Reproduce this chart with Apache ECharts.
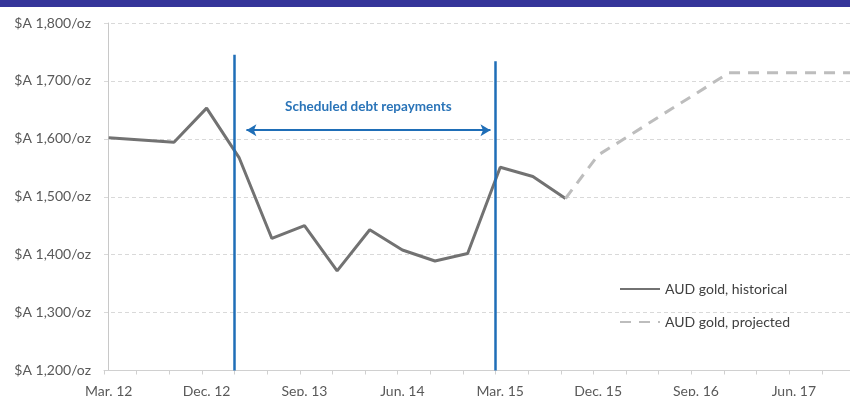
<!DOCTYPE html>
<html>
<head>
<meta charset="utf-8">
<script src="https://cdn.jsdelivr.net/npm/echarts@6/dist/echarts.min.js"></script>
<style>
  html, body { margin: 0; padding: 0; background: #fff; }
  #chart { width: 850px; height: 396px; }
</style>
</head>
<body>
<div id="chart"></div>
<script>
// quarters, from Mar. 12 (index 0)
const quarters = ['Mar. 12','Jun. 12','Sep. 12','Dec. 12','Mar. 13','Jun. 13','Sep. 13','Dec. 13',
  'Mar. 14','Jun. 14','Sep. 14','Dec. 14','Mar. 15','Jun. 15','Sep. 15','Dec. 15',
  'Mar. 16','Jun. 16','Sep. 16','Dec. 16','Mar. 17','Jun. 17','Sep. 17','Dec. 17'];
const labelQuarters = [0, 3, 6, 9, 12, 15, 18, 21];

// AUD gold price, $A/oz
const historical = [1602, 1598, 1594, 1653, 1567, 1428, 1450, 1372, 1443, 1408, 1389, 1402, 1551, 1535, 1497];
const projectedStart = 14;
const projected = [1497, 1572, 1607, 1643, 1678, 1714, 1714, 1714, 1714, 1714];

// scheduled debt repayments window (quarter index)
const repayStart = 4;
const repayEnd = 12;

const tickShift = 0.145;   // excel ticks sit a little left of the points
const font = 'Lato, "Open Sans", sans-serif';
const blue = '#1f6eb7';

const chart = echarts.init(document.getElementById('chart'));

const option = {
  animation: false,
  textStyle: { fontFamily: font },
  graphic: [{
    type: 'rect',
    shape: { x: 0, y: 0, width: 850, height: 7 },
    style: { fill: '#35359a' }
  }],
  grid: { left: 104, right: 0, top: 23, bottom: 25.5, outerBoundsMode: 'none', containLabel: false },
  legend: {
    orient: 'vertical',
    left: 614,
    top: 277,
    itemWidth: 40,
    itemHeight: 14,
    itemGap: 19,
    itemStyle: { opacity: 0 },
    textStyle: { fontSize: 14, color: '#404040', fontFamily: font },
    data: ['AUD gold, historical', 'AUD gold, projected']
  },
  xAxis: {
    type: 'value',
    min: -tickShift,
    max: 22.72,
    splitLine: { show: false },
    axisLine: { show: true, lineStyle: { color: '#d0d0d0', width: 1 } },
    axisTick: {
      show: true,
      length: 4,
      lineStyle: { color: '#d0d0d0' },
      customValues: quarters.map((q, i) => i - tickShift)
    },
    axisLabel: {
      customValues: labelQuarters,
      formatter: v => quarters[Math.round(v)],
      color: '#595959',
      fontSize: 14,
      margin: 14,
      fontFamily: font
    }
  },
  yAxis: {
    type: 'value',
    min: 1200,
    max: 1800,
    interval: 100,
    axisLine: { show: true, lineStyle: { color: '#c8c8c8' } },
    axisTick: { show: false },
    axisLabel: {
      formatter: v => '$A ' + v.toLocaleString('en-US') + '/oz',
      color: '#595959',
      fontSize: 14,
      margin: 13,
      fontFamily: font
    },
    splitLine: { lineStyle: { color: '#d9d9d9', type: [4, 3], width: 1 } }
  },
  series: [
    {
      name: 'AUD gold, historical',
      type: 'line',
      symbol: 'none',
      data: historical.map((v, i) => [i, v]),
      lineStyle: { color: '#727272', width: 3 },
      itemStyle: { color: '#727272' },
      markLine: {
        silent: true,
        symbol: ['none', 'none'],
        lineStyle: { color: blue, width: 2.5, type: 'solid' },
        label: { show: false },
        data: [
          [{ coord: [repayStart - tickShift, 1200] }, { coord: [repayStart - tickShift, 1745] }],
          [{ coord: [repayEnd - tickShift, 1200] }, { coord: [repayEnd - tickShift, 1734] }]
        ]
      }
    },
    {
      name: 'AUD gold, projected',
      type: 'line',
      symbol: 'none',
      data: projected.map((v, i) => [i + projectedStart, v]),
      lineStyle: { color: '#bdbdbd', width: 3, type: [11, 8] },
      itemStyle: { color: '#bdbdbd' },
      markLine: {
        silent: true,
        symbol: ['arrow', 'arrow'],
        symbolSize: [9, 10],
        lineStyle: { color: blue, width: 2, type: 'solid' },
        label: {
          show: true,
          position: 'insideMiddleTop',
          distance: 17,
          formatter: 'Scheduled debt repayments',
          color: '#2a74b8',
          fontWeight: 'bold',
          fontSize: 13.5,
          fontFamily: font
        },
        data: [
          [{ coord: [4.22, 1615] }, { coord: [11.7, 1615] }]
        ]
      }
    }
  ]
};

chart.setOption(option);
</script>
</body>
</html>
